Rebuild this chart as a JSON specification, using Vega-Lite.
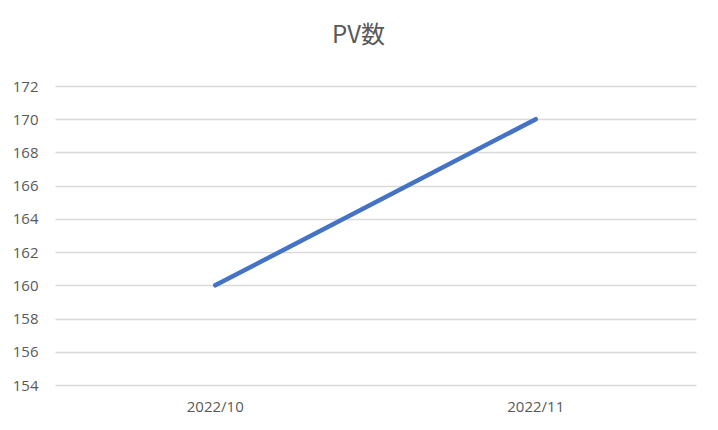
{
  "$schema": "https://vega.github.io/schema/vega-lite/v6.json",
  "autosize": {"type": "none"},
  "padding": {"left": 55, "top": 86, "right": 22, "bottom": 45},
  "width": 641,
  "height": 299,
  "background": "white",
  "title": {
    "text": "PV数",
    "font": "Noto Sans CJK JP",
    "fontSize": 24,
    "fontWeight": "normal",
    "color": "#595959",
    "anchor": "middle",
    "dx": -17,
    "offset": 31
  },
  "data": {
    "values": [
      {"month": "2022/10", "pv": 160},
      {"month": "2022/11", "pv": 170}
    ]
  },
  "mark": {"type": "line", "color": "#4472C4", "strokeWidth": 4.5, "strokeCap": "round"},
  "encoding": {
    "x": {
      "field": "month",
      "type": "ordinal",
      "scale": {"type": "band", "paddingInner": 0, "paddingOuter": 0},
      "axis": {
        "title": null,
        "labelAngle": 0,
        "domain": false,
        "ticks": false,
        "labelPadding": 14,
        "labelFont": "Open Sans",
        "labelFontSize": 15,
        "labelColor": "#595959"
      }
    },
    "y": {
      "field": "pv",
      "type": "quantitative",
      "scale": {"domain": [154, 172], "nice": false, "zero": false},
      "axis": {
        "title": null,
        "values": [154, 156, 158, 160, 162, 164, 166, 168, 170, 172],
        "domain": false,
        "ticks": false,
        "labelPadding": 17,
        "labelFont": "Open Sans",
        "labelFontSize": 15,
        "labelColor": "#595959",
        "gridColor": "#d9d9d9",
        "gridWidth": 1.3
      }
    }
  },
  "config": {"view": {"stroke": null}}
}
